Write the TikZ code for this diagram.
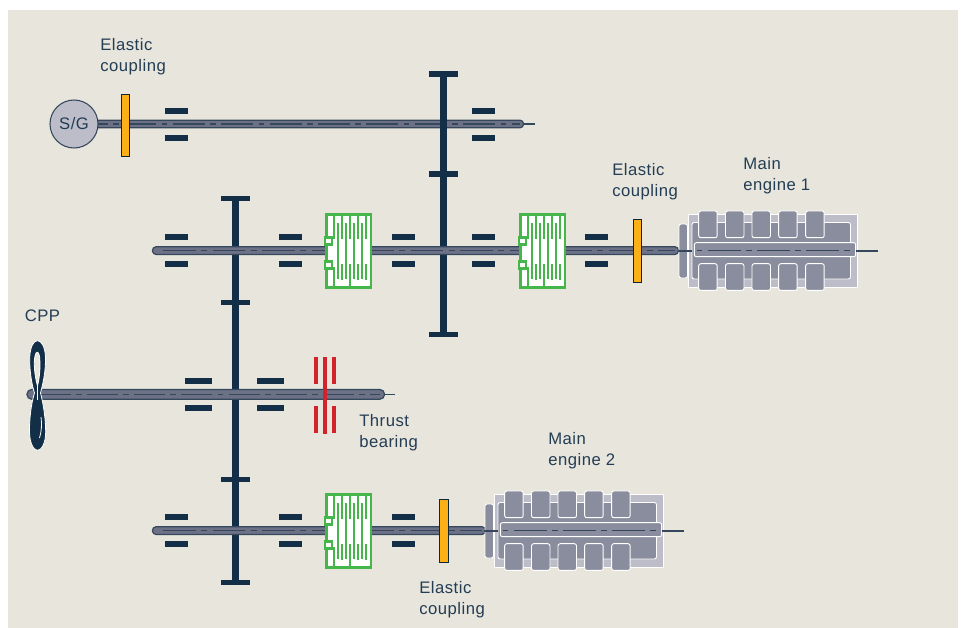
\documentclass[tikz,border=0pt]{standalone}
\usepackage{fontspec}
\setmainfont[LetterSpace=3]{Liberation Sans}
\definecolor{bgc}{HTML}{E8E5DC}
\definecolor{navy}{HTML}{132F47}
\definecolor{shaftc}{HTML}{6C7186}
\definecolor{shaftl}{HTML}{35475C}
\definecolor{ambr}{HTML}{FCAF17}
\definecolor{grn}{HTML}{45B649}
\definecolor{redc}{HTML}{D2232A}
\definecolor{engd}{HTML}{8A8D9D}
\definecolor{engl}{HTML}{BCBDC9}
\definecolor{txtc}{HTML}{233D54}
\tikzset{
  x=0.75pt,y=-0.75pt,
  label text/.style={font=\fontsize{12.5}{15.8}\selectfont,text=txtc,align=left,anchor=north west,inner sep=0pt},
  shaft body/.style={fill=shaftc,draw=shaftl,line width=0.9pt,rounded corners=2.6pt},
  shaft mark/.style={draw=shaftl,line width=0.9pt},
  thin tail/.style={draw=shaftl,line width=0.8pt},
  bearing/.style={fill=navy,draw=none},
  gear/.style={fill=navy,draw=none},
  coupling/.style={fill=ambr,draw=navy!80!black,line width=0.75pt},
  clutch line/.style={draw=grn,line width=1.8pt},
  clutch box/.style={draw=grn,line width=1.9pt,fill=white},
  thrust/.style={fill=redc,draw=none},
  eng outer/.style={fill=engl,draw=white,line width=0.7pt},
  eng part/.style={fill=engd,draw=white,line width=0.7pt,rounded corners=1.6pt},
}
\newcommand{\bearingpair}[2]{% x-left, shaft y
  \fill[bearing] (#1,#2-16.5) rectangle ++(23,6);
  \fill[bearing] (#1,#2+10.5) rectangle ++(23,6);
}
\newcommand{\clutchunit}[2]{% x-left, y-center
  \begin{scope}[shift={(#1,#2)}]
    \draw[clutch box] (1.5,-35.8) rectangle (46,37);
    \foreach \bx in {8.8,16.8,24.8,32.8,41}{\draw[clutch line] (\bx,-35.5) -- (\bx,-12);}
    \foreach \bx in {12.8,20.8,28.8,36.8}{\draw[clutch line] (\bx,-28) -- (\bx,28);}
    \draw[clutch line] (8.8,16) -- (8.8,35);
    \draw[clutch line] (16.8,13) -- (16.8,29);
    \draw[clutch line] (24.8,13) -- (24.8,35);
    \draw[clutch line] (32.8,13) -- (32.8,29);
    \draw[clutch line] (41,13) -- (41,29);
    \draw[clutch box] (0,-13) rectangle (7,-6);
    \draw[clutch box] (0,11) rectangle (7,18);
  \end{scope}
}
\newcommand{\engineunit}[2]{% x-offset, y-offset
  \begin{scope}[shift={(#1,#2)}]
    \draw[eng part] (679,224) rectangle (687.5,278);
    \draw[eng outer] (688,214) rectangle (857,287);
    \draw[eng part] (692,222.5) rectangle (850.5,279);
    \foreach \cx in {698.7,725.5,752,778.7,805.7}{
      \draw[eng part] (\cx,211) rectangle ++(18.5,26.7);
      \draw[eng part] (\cx,263.7) rectangle ++(18.5,26.7);
    }
    \draw[eng part] (694.3,242.7) rectangle (855.7,256.7);
    \draw[thin tail] (678,251) -- (692,251);
    \draw[thin tail] (855.7,251) -- (877.7,251);
    \draw[shaft mark,dash pattern=on 4.1pt off 4.1pt on 24.5pt off 4.1pt] (697,250.5) -- (853,250.5);
  \end{scope}
}
\begin{document}
\begin{tikzpicture}
\useasboundingbox (0,0) rectangle (965,628);
\fill[bgc] (8,10) rectangle (958,628);

% shaft 1 lies under its gear
\draw[shaft body] (90,120.2) rectangle (523.5,127.8);
\draw[shaft mark,dash pattern=on 24pt off 4.1pt on 4.1pt off 4.1pt] (76,124) -- (520,124);
\draw[thin tail] (523,124) -- (535,124);

% gears
\fill[gear] (231.5,196) rectangle (238.5,585);
\foreach \gy in {196,300,477,580}{\fill[gear] (221,\gy) rectangle (249.5,\gy+5.3);}
\fill[gear] (440,71.3) rectangle (447,337);
\foreach \gy in {71.3,171.3,331.5}{\fill[gear] (429,\gy) rectangle (458,\gy+5.5);}

% shaft 2
\draw[shaft body] (152.5,246.8) rectangle (678.5,254.4);
\draw[shaft mark,dash pattern=on 24.5pt off 4.1pt on 4.4pt off 4.1pt] (163.3,250.5) -- (675,250.5);
% shaft 3
\draw[shaft body] (152.5,526.8) rectangle (485.5,534.4);
\draw[shaft mark,dash pattern=on 24.5pt off 4.1pt on 4.4pt off 4.1pt] (163.3,530.5) -- (482,530.5);
% CPP shaft
\draw[shaft body,rounded corners=3.4pt] (27,389.5) rectangle (384.5,399.2);
\draw[shaft mark,dash pattern=on 23.3pt off 3.9pt on 4.3pt off 3.9pt] (39.7,394.3) -- (380,394.3);
\draw[thin tail] (384,394.3) -- (395,394.3);

% bearings
\foreach \bx in {165,472}{\bearingpair{\bx}{124}}
\foreach \bx in {165,279,392,472,585}{\bearingpair{\bx}{250.5}}
\foreach \bx in {165,279,392}{\bearingpair{\bx}{530.5}}
\fill[bearing] (185,377.5) rectangle ++(27,6.3);
\fill[bearing] (185,404.5) rectangle ++(27,6.3);
\fill[bearing] (257,377.5) rectangle ++(27,6.3);
\fill[bearing] (257,404.5) rectangle ++(27,6.3);

% clutches
\clutchunit{325}{250.5}
\clutchunit{519}{250.5}
\clutchunit{325}{530.5}

% couplings
\draw[coupling] (121.3,94.5) rectangle (129.7,156.8);
\draw[coupling] (633,219.3) rectangle (641.5,282);
\draw[coupling] (439.5,499.8) rectangle (448,562);

% S/G
\node[circle,draw=shaftl,fill=engl,line width=0.8pt,minimum size=36pt,inner sep=0pt,font=\fontsize{12.5}{14}\selectfont,text=txtc] (sg) at (74,124) {S/G};

% engines
\engineunit{0}{0}
\engineunit{-194}{280}

% thrust bearing
\fill[thrust] (314,357) rectangle (318,384);
\fill[thrust] (332,357) rectangle (336,384);
\fill[thrust] (314,406) rectangle (318,433);
\fill[thrust] (332,406) rectangle (336,433);
\fill[thrust] (323,357) rectangle (327,434);

% propeller
\filldraw[fill=navy,draw=white,line width=0.6pt]
  (34.5,393) .. controls (31,382) and (29.5,368) .. (29.7,358)
  .. controls (30,347) and (33.5,340.7) .. (37.5,340.7)
  .. controls (41.5,340.7) and (45.3,347) .. (45.5,358)
  .. controls (45.7,370) and (43.5,382) .. (40.5,393)
  .. controls (43.5,404) and (45.7,420) .. (45.7,432)
  .. controls (45.7,443) and (41.5,450.3) .. (37.5,450.3)
  .. controls (33.5,450.3) and (29.7,443) .. (29.5,432)
  .. controls (29.3,420) and (31,404) .. (34.5,393) -- cycle;
\draw[white,line width=0.6pt,fill=bgc]
  (37.5,386) .. controls (34.5,375) and (33.5,363) .. (35,356)
  .. controls (36,351) and (38.5,351) .. (39.5,356)
  .. controls (40.5,365) and (40,376) .. (37.5,386) -- cycle;
\draw[white,line width=0.6pt] (37.5,386) -- (37.5,400);
\draw[white,line width=0.6pt] (39.5,438) .. controls (41.5,432) and (42,424) .. (41,417);

% labels
\node[label text] (lec1) at (100,38.5) {Elastic\\coupling};
\node[label text] (lec2) at (612,163) {Elastic\\coupling};
\node[label text] (lec3) at (419,581) {Elastic\\coupling};
\node[label text] (lme1) at (743,157) {Main\\engine 1};
\node[label text] (lme2) at (548,432) {Main\\engine 2};
\node[label text] (lcpp) at (24.5,310) {CPP};
\node[label text] (ltb) at (359,414) {Thrust\\bearing};
\end{tikzpicture}
\end{document}
